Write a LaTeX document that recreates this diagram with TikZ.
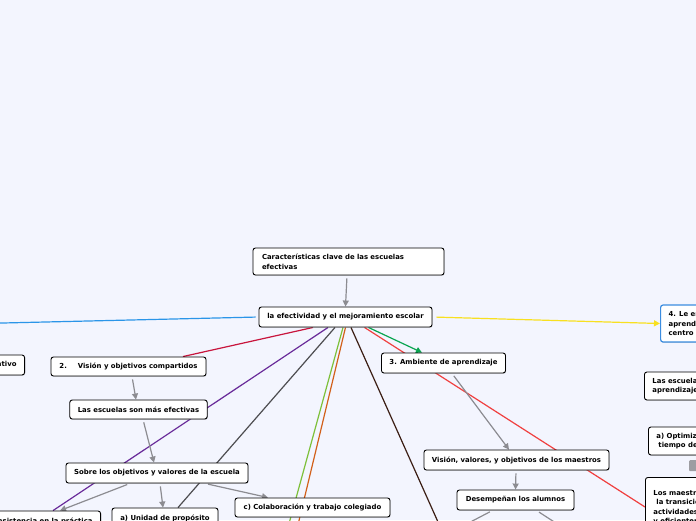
\documentclass[tikz,border=0pt]{standalone}
\usepackage{fontspec}
\setmainfont{DejaVu Sans}
\usetikzlibrary{arrows.meta,shadows}
\definecolor{bg}{RGB}{243,245,254}
\definecolor{arrowgray}{RGB}{140,140,145}
\definecolor{cblue}{RGB}{42,149,232}
\definecolor{ccrimson}{RGB}{200,20,60}
\definecolor{cpurple}{RGB}{106,44,154}
\definecolor{cdgray}{RGB}{77,77,80}
\definecolor{clgreen}{RGB}{125,192,58}
\definecolor{corange}{RGB}{210,96,26}
\definecolor{cbrown}{RGB}{59,30,20}
\definecolor{cred}{RGB}{240,64,64}
\definecolor{cgreen}{RGB}{10,165,80}
\definecolor{cyellow}{RGB}{248,224,32}
\definecolor{nblue}{RGB}{59,141,224}
\pgfdeclarelayer{back}
\pgfdeclarelayer{lines}
\pgfsetlayers{back,lines,main}
\begin{document}
\begin{tikzpicture}[x=1pt,y=-1pt,
  box/.style={draw=black, line width=0.9pt, fill=white, rounded corners=2.5pt,
    inner xsep=8pt, inner ysep=0pt, minimum height=20pt,
    font=\bfseries\fontsize{6.9pt}{9.5pt}\selectfont,
    drop shadow={shadow xshift=0.6pt,shadow yshift=-0.9pt,opacity=0.3}},
  conn/.style={draw=arrowgray, line width=1.2pt, shorten <=3pt,
    -{Triangle[length=6pt,width=6pt]}},
  topic/.style={line width=1.2pt}]
\useasboundingbox (0,0) rectangle (696,520);
\begin{pgfonlayer}{back}
\fill[bg] (0,0) rectangle (696,520);
\end{pgfonlayer}

% nodes
\node[box, text width=173pt, align=left, minimum height=27pt, inner xsep=9pt,
  font=\bfseries\fontsize{6.9pt}{10pt}\selectfont] (kc) at (348.5,261.5)
  {Características clave de las escuelas\\efectivas};
\node[box, minimum width=173pt] (main) at (345.5,317) {la efectividad y el mejoramiento escolar};
\node[box, anchor=east] (lp) at (25,365) {b) Enfoque participativo};
\node[box, minimum width=155pt, minimum height=19pt] (v2) at (128.5,366.5) {2.\hspace{11pt}Visión y objetivos compartidos};
\node[box, minimum width=137pt, minimum height=19pt] (esc) at (138.5,409.5) {Las escuelas son más efectivas};
\node[box, minimum width=182pt] (sob) at (157,473) {Sobre los objetivos y valores de la escuela};
\node[box, minimum width=106pt] (uni) at (165,518) {a) Unidad de propósito};
\node[box, minimum width=130pt] (con) at (35,521) {b) Consistencia en la práctica};
\node[box, minimum width=155pt, minimum height=19pt] (col) at (312.5,507.5) {c) Colaboración y trabajo colegiado};
\node[box, minimum width=123pt] (amb) at (443.5,363) {3. Ambiente de aprendizaje};
\node[box, minimum width=185pt] (vvo) at (516.5,460) {Visión, valores, y objetivos de los maestros};
\node[box, minimum width=117pt] (des) at (515.5,500) {Desempeñan los alumnos};
\node[box, draw=nblue, line width=1.2pt, anchor=west, align=left, minimum height=37pt] (n4) at (660,323.5)
  {4. Le enseñanza y el\\aprendizaje como\\centro de la actividad};
\node[box, anchor=west, align=left, minimum height=28pt] (ea) at (644,386)
  {Las escuelas de\\aprendizaje efectivo};
\node[box, anchor=west, align=left, minimum height=28pt] (opt) at (648,441)
  {a) Optimización del\\\hspace{2pt}tiempo de aprendizaje};
\node[fill=arrowgray!85, rounded corners=1pt, minimum width=12pt, minimum height=11pt,
  inner sep=0pt, anchor=north west] (tag) at (689,460) {};
\node[box, anchor=north west, align=left, minimum height=60pt] (lm) at (645,477)
  {Los maestros hacen\\\hspace{3pt}la transición entre\\actividades rápida\\y eficientemente};

% off-canvas ends
\coordinate (lpro) at (-40,324);
\coordinate (gr) at (279,560);
\coordinate (or) at (289.5,560);
\coordinate (br) at (455,560);
\coordinate (d1) at (436,540);
\coordinate (d2) at (582,540);

\begin{pgfonlayer}{lines}
% topic lines from the central node
\draw[topic, cblue, shorten <=3pt] (main.west) -- (lpro);
\draw[topic, ccrimson] ([xshift=-32.5pt]main.south) -- ([xshift=54.5pt]v2.north);
\draw[topic, cpurple] ([xshift=-17.5pt]main.south) -- ([xshift=18pt]con.north);
\draw[topic, cdgray] ([xshift=-10.5pt]main.south) -- ([xshift=13pt]uni.north);
\draw[topic, clgreen] ([xshift=-2.5pt]main.south) -- (gr);
\draw[topic, corange] ([xshift=0pt]main.south) -- (or);
\draw[topic, cbrown] ([xshift=5.5pt]main.south) -- (br);
\draw[topic, cred] ([xshift=19pt]main.south) -- ([yshift=-30pt]lm.north west);
\draw[topic, cgreen, -{Triangle[length=6pt,width=6pt]}] ([xshift=23pt]main.south) -- ([xshift=-21.5pt]amb.north);
\draw[topic, cyellow, shorten <=4pt, -{Triangle[length=6pt,width=6pt]}] (main.east) -- (n4.west);

% gray connectors
\draw[conn] ([xshift=-1.5pt]kc.south) -- (main.north);
\draw[conn] ([xshift=3.5pt]v2.south) -- ([xshift=-2.5pt]esc.north);
\draw[conn] ([xshift=4.5pt]esc.south) -- ([xshift=-3pt]sob.north);
\draw[conn] ([xshift=3pt]sob.south) -- ([xshift=-2pt]uni.north);
\draw[conn] ([xshift=-27pt]sob.south) -- ([xshift=25pt]con.north);
\draw[conn] ([xshift=48pt]sob.south) -- ([xshift=-44.5pt]col.north);
\draw[conn] ([xshift=8.5pt]amb.south) -- ([xshift=-7.5pt]vvo.north);
\draw[conn] ([xshift=-0.5pt]vvo.south) -- (des.north);
\draw[conn] ([xshift=-23pt]des.south) -- (d1);
\draw[conn] ([xshift=21pt]des.south) -- (d2);
\end{pgfonlayer}
\end{tikzpicture}
\end{document}
